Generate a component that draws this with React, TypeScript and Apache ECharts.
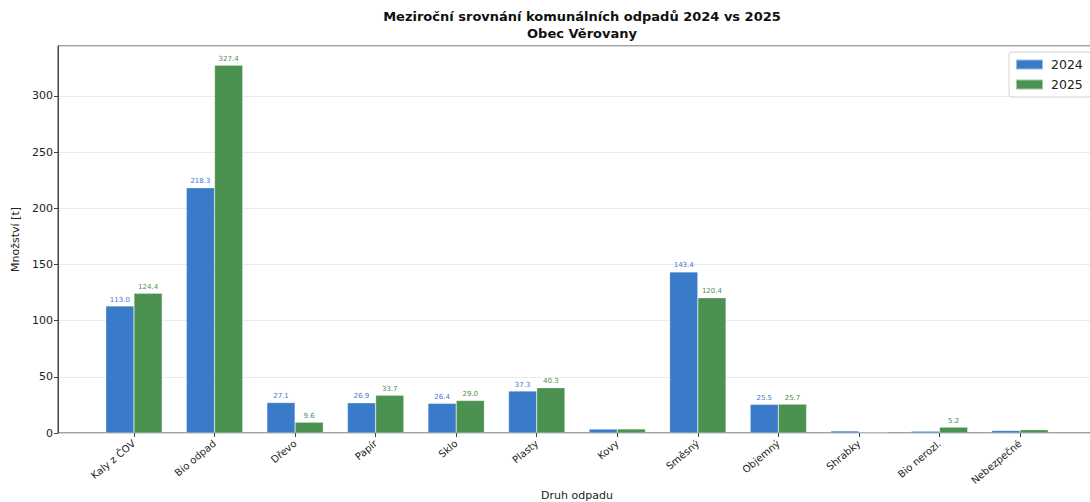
import React, { useEffect, useRef } from "react";
import * as echarts from "echarts";

const categories = ["Kaly z ČOV", "Bio odpad", "Dřevo", "Papír", "Sklo", "Plasty", "Kovy", "Směsný", "Objemný", "Shrabky", "Bio nerozl.", "Nebezpečné"];
const values2024 = [113.0, 218.3, 27.1, 26.9, 26.4, 37.3, 3.5, 143.4, 25.5, 1.8, 1.6, 2.2];
const values2025 = [124.4, 327.4, 9.6, 33.7, 29.0, 40.3, 3.6, 120.4, 25.7, 0.8, 5.2, 2.9];
const yTicks = [0, 50, 100, 150, 200, 250, 300];

const BLUE = "#3a7bc9";
const GREEN = "#4b9150";
const FONT = "DejaVu Sans";
const YMAX = 344.5;

export default function App() {
  const ref = useRef<HTMLDivElement>(null);
  useEffect(() => {
    document.body.style.margin = "0";
    const chart = echarts.init(ref.current!, null, { renderer: "svg" });
    const labelFmt = (p: any) => (p.value > 5 ? Number(p.value).toFixed(1) : "");
    chart.setOption({
      animation: false,
      textStyle: { fontFamily: FONT },
      title: {
        text: "Meziroční srovnání komunálních odpadů 2024 vs 2025\nObec Věrovany",
        left: 577,
        top: 3,
        textAlign: "center",
        textStyle: { fontFamily: FONT, fontSize: 13, fontWeight: "bold", color: "#111", lineHeight: 17 },
      },
      legend: {
        orient: "vertical",
        left: 1009,
        top: 52,
        data: ["2024", "2025"],
        icon: "rect",
        itemWidth: 27,
        itemHeight: 10,
        itemGap: 7,
        padding: [6, 8, 6, 6],
        backgroundColor: "#fff",
        borderColor: "#d0d0d0",
        borderWidth: 1,
        borderRadius: 3,
        textStyle: { fontFamily: FONT, fontSize: 12.5, color: "#222", padding: [0, 0, 0, 3] },
      },
      grid: [
        { left: 58, top: 46, right: -6, bottom: 69, show: true, borderColor: "#444", borderWidth: 1, backgroundColor: "transparent", outerBoundsMode: "none" },
        { left: 93.7, top: 46, width: 966.6, bottom: 69, outerBoundsMode: "none" },
      ],
      xAxis: [
        { type: "value", gridIndex: 0, show: false, min: 0, max: 1 },
        {
          type: "category",
          gridIndex: 1,
          data: categories,
          axisLine: { show: false },
          axisTick: { show: true, alignWithLabel: true, length: 4, lineStyle: { color: "#444" } },
          axisLabel: { rotate: 40, fontSize: 10, color: "#222", margin: 9, interval: 0, fontFamily: FONT },
          name: "Druh odpadu",
          nameLocation: "middle",
          nameGap: 57,
          nameMoveOverlap: false,
          nameTextStyle: { fontSize: 11, color: "#222", fontFamily: FONT },
        },
      ],
      yAxis: [
        {
          type: "value",
          gridIndex: 0,
          min: 0,
          max: YMAX,
          interval: 50,
          axisLine: { show: true, lineStyle: { color: "#444" } },
          axisTick: { show: true, length: 4, lineStyle: { color: "#444" } },
          axisLabel: {
            fontSize: 11,
            color: "#222",
            margin: 5,
            fontFamily: FONT,
            showMaxLabel: false,
            formatter: (v: number) => (yTicks.includes(v) ? String(v) : ""),
          },
          splitLine: { show: true, lineStyle: { color: "#e6e6e6", width: 0.8 } },
          name: "Množství [t]",
          nameLocation: "middle",
          nameGap: 37,
          nameMoveOverlap: false,
          nameTextStyle: { fontSize: 11, color: "#222", fontFamily: FONT },
        },
        { type: "value", gridIndex: 1, min: 0, max: YMAX, show: false, splitLine: { show: false } },
      ],
      series: [
        {
          name: "2024",
          type: "bar",
          xAxisIndex: 1,
          yAxisIndex: 1,
          data: values2024,
          barWidth: 28.2,
          barGap: "0%",
          itemStyle: { color: BLUE, borderColor: "rgba(255,255,255,0.5)", borderWidth: 0.5 },
          label: { show: true, position: "top", distance: 3, fontSize: 7, color: BLUE, formatter: labelFmt, fontFamily: FONT },
        },
        {
          name: "2025",
          type: "bar",
          xAxisIndex: 1,
          yAxisIndex: 1,
          data: values2025,
          barWidth: 28.2,
          barGap: "0%",
          itemStyle: { color: GREEN, borderColor: "rgba(255,255,255,0.5)", borderWidth: 0.5 },
          label: { show: true, position: "top", distance: 3, fontSize: 7, color: GREEN, formatter: labelFmt, fontFamily: FONT },
        },
      ],
    });
    return () => chart.dispose();
  }, []);
  return <div ref={ref} style={{ width: 1090, height: 502 }} />;
}
